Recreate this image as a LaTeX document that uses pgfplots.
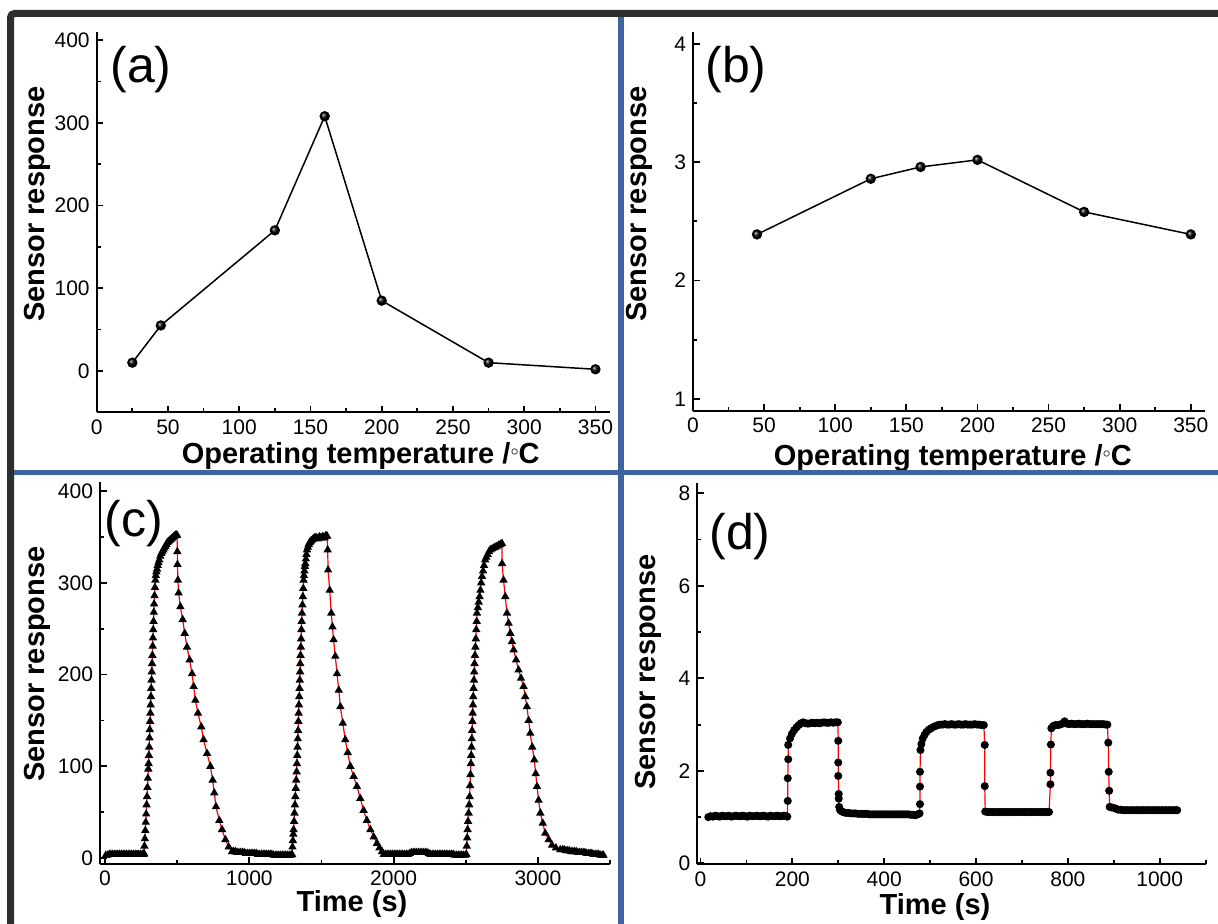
\documentclass[border=0pt]{standalone}
\usepackage{fontspec}
\setmainfont{Liberation Sans}
\usepackage{pgfplots}
\pgfplotsset{compat=1.18}
\definecolor{panelblue}{HTML}{3D64A0}
\definecolor{framegray}{HTML}{2E2E2E}

\pgfplotsset{
  panel/.style={
    scale only axis,
    anchor=south west,
    axis lines=left,
    axis line style={-, line width=1pt},
    tick align=inside,
    major tick length=3.3pt,
    minor tick length=2pt,
    tick style={line width=0.9pt, black},
    tick label style={font=\fontsize{10.5}{12}\selectfont},
    /pgf/number format/assume math mode=true,
    /pgf/number format/1000 sep={},
    scaled ticks=false,
  },
}
\newcommand{\axlab}{\fontsize{14.5}{16}\selectfont\bfseries}
\newcommand{\panlab}{\fontsize{25}{28}\selectfont}
\newcommand{\degc}{/\raisebox{0.28em}{\fontsize{7}{7}\selectfont$\circ$}C}

\begin{document}
\begin{tikzpicture}
\useasboundingbox (0,0) rectangle (609pt,462pt);
\fill[white] (0,0) rectangle (609pt,462pt);

% (a) response vs operating temperature
\begin{axis}[panel, at={(48.35pt,255.85pt)}, width=256.5pt, height=190.2pt,
  xmin=0, xmax=360, ymin=-50, ymax=410,
  xtick={0,50,...,350}, minor xtick={25,75,...,325},
  ytick={0,100,...,400}, minor ytick={50,150,250,350}]
\addplot[black, line width=0.75pt, mark=ball, mark size=2.2pt, mark options={ball color=black}]
  coordinates {(25,10) (45,55) (125,170) (160,308) (200,85) (275,10) (350,2)};
\end{axis}

% (b) response vs operating temperature
\begin{axis}[panel, at={(346.5pt,256.65pt)}, width=256pt, height=189.3pt,
  xmin=0, xmax=360, ymin=0.9, ymax=4.1,
  xtick={0,50,...,350}, minor xtick={25,75,...,325},
  ytick={1,2,3,4}, minor ytick={1.5,2.5,3.5}]
\addplot[black, line width=0.75pt, mark=ball, mark size=2.2pt, mark options={ball color=black}]
  coordinates {(45,2.39) (125,2.86) (160,2.96) (200,3.02) (275,2.58) (350,2.39)};
\end{axis}

% (c) dynamic response
\begin{axis}[panel, at={(50pt,30pt)}, width=255pt, height=191pt,
  xmin=-35, xmax=3500, ymin=-6.5, ymax=410,
  xtick={0,1000,2000,3000}, minor xtick={500,1500,2500,3500},
  ytick={0,100,...,400}, minor ytick={50,150,250,350}]
\addplot[red, line width=0.6pt, mark=triangle*, mark size=1.85pt, mark options={black, fill=black}]
  coordinates {
  (5,3) (17,3) (29,4) (41,4) (53,4) (65,4) (77,4) (89,4) (101,4) (113,4) (125,4) (137,4)
  (149,4) (161,4) (173,4) (185,4) (197,4) (209,4) (221,4) (233,4) (245,4) (257,4) (267,4)
  (270,5) (273,13) (276,21) (279,30) (282,39) (285,48) (288,58) (291,67) (294,77) (297,87)
  (300,97) (302,103) (304,112) (306,121) (308,131) (310,140) (312,149) (314,158) (316,167)
  (318,176) (320,185) (322,194) (324,203) (326,212) (328,221) (330,231) (332,240) (334,249)
  (336,258) (338,268) (340,277) (343,286) (346,295) (349,303)
  (352,308) (356,312) (360,315) (365,319) (370,322) (376,325) (383,329) (390,332) (397,334)
  (404,336) (411,338) (418,340) (425,342) (432,344) (439,345) (446,346) (453,347) (460,348)
  (467,349) (474,350) (481,351) (488,352) (495,352) (499,352)
  (501,334) (502,320) (505,303) (510,289) (522,274) (538,260) (552,245) (568,230) (586,216)
  (603,201) (614,187) (626,172) (644,158) (667,143) (683,129) (707,114) (730,100) (746,85)
  (757,71) (769,56) (792,41) (811,31) (834,20) (857,12) (880,7)
  (892,7) (904,7) (916,6) (928,6) (940,6) (952,6) (964,6) (976,5) (988,5) (1000,5) (1012,5)
  (1024,5) (1036,5) (1048,5) (1060,4) (1072,4) (1084,4) (1096,4) (1108,4) (1120,4) (1132,4)
  (1144,4) (1156,4) (1168,3) (1180,3) (1192,3) (1204,3) (1216,3) (1228,3) (1240,3) (1252,3)
  (1264,3) (1276,3) (1288,3)
  (1296,4) (1299,12) (1302,19) (1305,26) (1307,31) (1310,40) (1313,49) (1316,58) (1319,67)
  (1322,76) (1325,85) (1328,94) (1330,103) (1332,112) (1334,121) (1336,130) (1338,139)
  (1340,149) (1342,158) (1344,167) (1346,176) (1348,185) (1350,194) (1352,203) (1353,212)
  (1355,221) (1357,230) (1359,239) (1361,249) (1363,258) (1365,267) (1368,276) (1371,285)
  (1374,294) (1376,303)
  (1379,308) (1382,313) (1385,318) (1388,321) (1392,326) (1396,331) (1400,336) (1406,339)
  (1412,342) (1418,344) (1423,345) (1430,346) (1437,347) (1444,348) (1451,349) (1458,349)
  (1465,349) (1472,348) (1479,349) (1486,350) (1493,349) (1500,349) (1507,350) (1514,350)
  (1521,349) (1528,351) (1535,351) (1539,351)
  (1543,336) (1546,314) (1557,292) (1568,267) (1576,252) (1584,238) (1596,220) (1608,201)
  (1620,183) (1631,165) (1648,147) (1665,129) (1682,115) (1700,100) (1723,89) (1746,78)
  (1769,65) (1792,52) (1815,41) (1839,31) (1862,23) (1885,16) (1902,11) (1920,7)
  (1932,4) (1944,4) (1956,4) (1968,4) (1980,4) (1992,4) (2004,4) (2016,4) (2028,4) (2040,4)
  (2052,4) (2064,4) (2076,4) (2088,4) (2100,4) (2112,5) (2124,6) (2136,6) (2148,6) (2160,6)
  (2172,6) (2184,6) (2196,6) (2208,6) (2220,6) (2232,6) (2244,5) (2256,4) (2268,4) (2280,4)
  (2292,4) (2304,4) (2316,4) (2328,4) (2340,4) (2352,4) (2364,4) (2376,4) (2388,4) (2400,4)
  (2412,4) (2424,3) (2436,3) (2448,3) (2460,3) (2472,3) (2484,3) (2496,3)
  (2504,4) (2507,13) (2510,22) (2513,31) (2516,40) (2520,49) (2524,58) (2527,67) (2530,79)
  (2533,91) (2536,103) (2538,112) (2540,121) (2542,130) (2544,139) (2546,149) (2548,158)
  (2550,167) (2552,176) (2554,185) (2557,194) (2559,203) (2561,212) (2564,221) (2567,230)
  (2570,239) (2573,249) (2576,258) (2578,267) (2584,273) (2590,279) (2596,285) (2602,292)
  (2607,300) (2613,307) (2620,313) (2627,319) (2635,325) (2643,328) (2652,331) (2661,334)
  (2670,336) (2682,337) (2694,338) (2705,339) (2717,340) (2729,341) (2740,342) (2751,343)
  (2752,321) (2762,303) (2774,285) (2786,267) (2797,256) (2809,245) (2820,236) (2832,227)
  (2849,216) (2866,205) (2883,196) (2901,187) (2912,176) (2924,165) (2936,150) (2947,136)
  (2961,121) (2975,107) (2985,92) (2994,78) (3005,63) (3017,49) (3034,38) (3051,27)
  (3075,20) (3098,14) (3125,11) (3155,9)
  (3170,9) (3182,9) (3194,8) (3206,8) (3218,8) (3230,7) (3242,7) (3254,7) (3266,7) (3278,6)
  (3290,6) (3302,6) (3314,6) (3326,6) (3338,5) (3350,5) (3362,5) (3374,5) (3386,4) (3398,4)
  (3410,4) (3422,4) (3434,3) (3446,3) (3455,3)
  };
\end{axis}

% (d) dynamic response
\begin{axis}[panel, at={(348.7pt,29.85pt)}, width=254.1pt, height=190.55pt,
  xmin=-6.75, xmax=1100, ymin=-0.02, ymax=8.22,
  xtick={0,200,...,1000}, minor xtick={100,300,...,1100},
  ytick={0,2,...,8}, minor ytick={1,3,5,7}]
\addplot[red, line width=0.6pt, mark=*, mark size=1.7pt, mark options={black, fill=black}]
  coordinates {
  (17,1.00) (22,1.02) (27,1.01) (32,1.03) (37,1.02) (42,1.01) (47,1.03) (52,1.02) (57,1.02)
  (62,1.03) (67,1.01) (72,1.02) (77,1.03) (82,1.02) (87,1.02) (92,1.03) (97,1.02) (102,1.01)
  (107,1.03) (112,1.02) (117,1.02) (122,1.03) (127,1.02) (132,1.02) (137,1.03) (142,1.02)
  (147,1.01) (152,1.03) (157,1.02) (162,1.02) (167,1.03) (172,1.02) (177,1.02) (182,1.03)
  (187,1.02) (189,1.01)
  (190,1.35) (190,1.84) (191,2.25) (191,2.56) (195,2.70) (199,2.80) (204,2.88) (209,2.94)
  (214,2.99) (219,3.03) (224,3.05) (229,3.03) (234,3.02) (239,3.03) (244,3.04) (249,3.03)
  (254,3.04) (259,3.03) (264,3.04) (269,3.05) (274,3.04) (279,3.04) (284,3.05) (289,3.04)
  (294,3.05) (299,3.05)
  (300,2.65) (300,2.18) (300,1.89) (301,1.50) (301,1.40) (302,1.22) (304,1.15) (308,1.12)
  (313,1.10) (318,1.09) (323,1.09) (328,1.08) (333,1.08) (338,1.08) (343,1.07) (348,1.07)
  (353,1.07) (358,1.07) (363,1.07) (368,1.06) (373,1.06) (378,1.06) (383,1.06) (388,1.06)
  (393,1.06) (398,1.06) (403,1.06) (408,1.06) (413,1.06) (418,1.06) (423,1.06) (428,1.06)
  (433,1.06) (438,1.06) (443,1.06) (448,1.06) (453,1.06) (458,1.05) (463,1.05) (468,1.04)
  (473,1.06) (477,1.08)
  (478,1.28) (478,1.66) (478,1.98) (479,2.45) (481,2.58) (484,2.70) (488,2.78) (492,2.84)
  (497,2.89) (502,2.92) (507,2.95) (512,2.97) (517,2.99) (522,3.00) (527,3.00) (532,3.01)
  (537,3.00) (542,3.00) (547,3.01) (552,3.00) (557,3.00) (562,3.01) (567,3.00) (572,3.00)
  (577,3.01) (582,3.00) (587,3.00) (592,3.00) (597,3.01) (602,3.00) (607,3.00) (612,2.99)
  (617,2.99)
  (619,2.56) (619,1.67) (620,1.12) (625,1.11) (630,1.11) (635,1.11) (640,1.11) (645,1.11)
  (650,1.11) (655,1.11) (660,1.11) (665,1.11) (670,1.11) (675,1.11) (680,1.11) (685,1.11)
  (690,1.11) (695,1.11) (700,1.11) (705,1.11) (710,1.11) (715,1.11) (720,1.11) (725,1.11)
  (730,1.11) (735,1.11) (740,1.11) (745,1.11) (750,1.11) (755,1.11) (759,1.11)
  (762,1.71) (762,1.96) (763,2.57) (764,2.92) (768,2.97) (773,2.99) (778,2.99) (783,3.00)
  (788,3.02) (793,3.07) (798,3.02) (803,3.01) (808,3.02) (813,3.01) (818,3.01) (823,3.02)
  (828,3.01) (833,3.01) (838,3.01) (843,3.02) (848,3.01) (853,3.01) (858,3.01) (863,3.01)
  (868,3.01) (873,3.01) (878,3.01) (883,3.00) (886,3.00)
  (888,2.61) (889,1.98) (890,1.57) (891,1.22) (895,1.21) (900,1.20) (905,1.18) (910,1.16)
  (915,1.16) (920,1.15) (925,1.15) (930,1.15) (935,1.15) (940,1.15) (945,1.15) (950,1.15)
  (955,1.15) (960,1.15) (965,1.15) (970,1.15) (975,1.15) (980,1.15) (985,1.15) (990,1.15)
  (995,1.15) (1000,1.15) (1005,1.15) (1010,1.15) (1015,1.15) (1020,1.15) (1025,1.15)
  (1030,1.15) (1035,1.15) (1038,1.15)
  };
\end{axis}

% axis titles
\node[anchor=base, inner sep=0pt, font=\axlab] at (180.35pt,230pt) {Operating temperature \degc};
\node[anchor=base, inner sep=0pt, font=\axlab] at (476.4pt,229pt) {Operating temperature \degc};
\node[anchor=base, inner sep=0pt, font=\axlab] at (176pt,6pt) {Time (s)};
\node[anchor=base, inner sep=0pt, font=\axlab] at (467.5pt,4.5pt) {Time (s)};
\node[anchor=base, inner sep=0pt, rotate=90, font=\axlab] at (22pt,360pt) {Sensor response};
\node[anchor=base, inner sep=0pt, rotate=90, font=\axlab] at (323pt,360pt) {Sensor response};
\node[anchor=base, inner sep=0pt, rotate=90, font=\axlab] at (22pt,130pt) {Sensor response};
\node[anchor=base, inner sep=0pt, rotate=90, font=\axlab] at (327.5pt,126pt) {Sensor response};

% panel letters
\node[anchor=base west, inner sep=0pt, font=\panlab] at (55pt,420.5pt) {(a)};
\node[anchor=base west, inner sep=0pt, font=\panlab] at (352.5pt,420.5pt) {(b)};
\node[anchor=base west, inner sep=0pt, font=\panlab] at (52pt,193.5pt) {(c)};
\node[anchor=base west, inner sep=0pt, font=\panlab] at (354.5pt,187pt) {(d)};

% separators and frame
\fill[panelblue] (308.75pt,-2pt) rectangle (311.75pt,456pt);
\fill[panelblue] (7pt,224.5pt) rectangle (612pt,227pt);
\draw[framegray, line width=3.5pt, rounded corners=2pt] (615pt,455.25pt) -- (5.25pt,455.25pt) -- (5.25pt,-5pt);
\end{tikzpicture}
\end{document}
